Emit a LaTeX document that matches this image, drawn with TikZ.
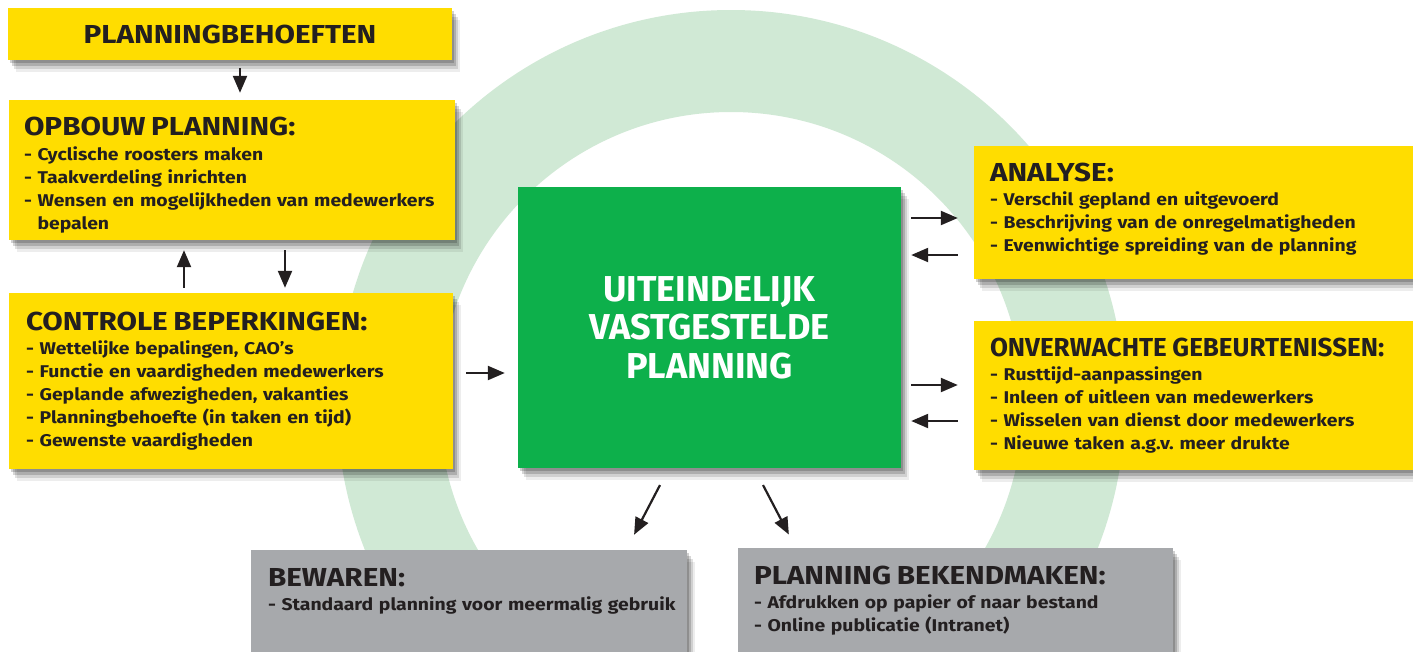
\documentclass[tikz,border=0pt]{standalone}
\usepackage{fontspec}
\setmainfont{Fira Sans}[FakeStretch=1.14]
\newfontfamily\smal{Fira Sans}
\frenchspacing
\usepackage{tikz}
\usetikzlibrary{arrows.meta,calc,positioning,shadows}
\definecolor{geel}{HTML}{FFDD00}
\definecolor{groen}{HTML}{0DB04B}
\definecolor{grijs}{HTML}{A7A9AC}
\definecolor{inkt}{HTML}{231F20}
\definecolor{watermerk}{HTML}{D0E9D5}
\newcommand{\kop}{\fontsize{26}{23}\selectfont}
\tikzset{
  kader/.style={rectangle,inner sep=0pt,text=inkt,
    drop shadow={shadow xshift=2pt,shadow yshift=-3pt,opacity=0.18,fill=black},
    drop shadow={shadow xshift=4pt,shadow yshift=-6pt,opacity=0.16,fill=black},
    drop shadow={shadow xshift=6pt,shadow yshift=-9pt,opacity=0.12,fill=black},
    drop shadow={shadow xshift=8pt,shadow yshift=-12pt,opacity=0.07,fill=black}},
  tekst/.style={anchor=north west,inner sep=0pt,text width=430pt,align=left,text=inkt,
    font=\bfseries\fontsize{17}{23}\selectfont},
  pijl/.style={-{Triangle[length=17pt,width=14pt]},line width=2.2pt,inkt}
}

\begin{document}
\begin{tikzpicture}[x=1pt,y=-1pt]
\useasboundingbox (0,0) rectangle (1413,651);
\fill[white] (0,0) rectangle (1413,651);
\fill[watermerk,even odd rule] (731,404) circle[radius=394] (731,404) circle[radius=292];
% linkerkolom
\node[kader,fill=geel,minimum width=444pt,minimum height=52pt,font=\bfseries\kop] (behoefte) at (230,34) {PLANNINGBEHOEFTEN};
\node[kader,fill=geel,minimum width=446pt,minimum height=140pt] (opbouw) at (232,170) {};
\node[kader,fill=geel,minimum width=444pt,minimum height=176pt] (controle) at (231,381) {};
\node[tekst] (opbouwtekst) at ($(opbouw.north west)+(15,17)$) {{\kop OPBOUW PLANNING:}\\[2pt]
  - Cyclische roosters maken\\ - Taakverdeling inrichten\\ - Wensen en mogelijkheden van medewerkers\\ \phantom{- }bepalen};
\node[tekst] (controletekst) at ($(controle.north west)+(17,19)$) {{\kop CONTROLE BEPERKINGEN:}\\[1pt]
  - Wettelijke bepalingen, CAO's\\ - Functie en vaardigheden medewerkers\\ - Geplande afwezigheden, vakanties\\
  - Planningbehoefte (in taken en tijd)\\ - Gewenste vaardigheden};
% midden
\node[kader,fill=groen,minimum width=383pt,minimum height=281pt,text=white,align=center,
  font=\smal\bfseries\fontsize{36}{38.5}\selectfont] (eind) at (709.5,327.5) {UITEINDELIJK\\VASTGESTELDE\\PLANNING};
% rechterkolom
\node[kader,fill=geel,minimum width=446pt,minimum height=133pt] (analyse) at (1197,212.5) {};
\node[kader,fill=geel,minimum width=446pt,minimum height=149pt] (onverwacht) at (1197,395.5) {};
\node[tekst] (analysetekst) at ($(analyse.north west)+(16,17)$) {{\kop ANALYSE:}\\[1pt]
  - Verschil gepland en uitgevoerd\\ - Beschrijving van de onregelmatigheden\\ - Evenwichtige spreiding van de planning};
\node[tekst] (onverwachttekst) at ($(onverwacht.north west)+(16,17)$) {{\smal\kop ONVERWACHTE GEBEURTENISSEN:}\\[1pt]
  - Rusttijd-aanpassingen\\ - Inleen of uitleen van medewerkers\\ - Wisselen van dienst door medewerkers\\ - Nieuwe taken a.g.v. meer drukte};
% onderaan
\node[kader,fill=grijs,minimum width=436pt,minimum height=120pt] (bewaren) at (469,610) {};
\node[kader,fill=grijs,minimum width=435pt,minimum height=120pt] (bekend) at (955.5,608) {};
\node[tekst] (bewarentekst) at ($(bewaren.north west)+(17,18)$) {{\kop BEWAREN:}\\[1pt]
  - Standaard planning voor meermalig gebruik};
\node[tekst] (bekendtekst) at ($(bekend.north west)+(16,18)$) {{\kop PLANNING BEKENDMAKEN:}\\[1pt]
  - Afdrukken op papier of naar bestand\\ - Online publicatie (Intranet)};
% pijlen
\draw[pijl,shorten <=8pt,shorten >=7pt] ($(behoefte.south)+(10,0)$) -- ($(opbouw.north)+(8,0)$);
\draw[pijl,shorten <=5pt,shorten >=10pt] ($(controle.north)+(-47,0)$) -- ($(opbouw.south)+(-48,0)$);
\draw[pijl,shorten <=10pt,shorten >=5pt] ($(opbouw.south)+(53,0)$) -- ($(controle.north)+(54,0)$);
\draw[pijl,shorten <=13pt,shorten >=13pt] ($(controle.east)+(0,-8)$) -- ($(controle.east -| eind.west)+(0,-8)$);
\draw[pijl,shorten <=10pt,shorten >=16pt] ($(eind.east |- analyse.west)+(0,5.5)$) -- ($(analyse.west)+(0,5.5)$);
\draw[pijl,shorten <=16pt,shorten >=10pt] ($(analyse.west)+(0,42.5)$) -- ($(eind.east |- analyse.west)+(0,42.5)$);
\draw[pijl,shorten <=10pt,shorten >=16pt] ($(eind.east |- onverwacht.west)+(0,-10.5)$) -- ($(onverwacht.west)+(0,-10.5)$);
\draw[pijl,shorten <=16pt,shorten >=10pt] ($(onverwacht.west)+(0,25.5)$) -- ($(eind.east |- onverwacht.west)+(0,25.5)$);
\draw[pijl,shorten <=19pt,shorten >=17pt] ($(eind.south)+(-40.7,0)$) -- ($(bewaren.north)+(157.2,0)$);
\draw[pijl,shorten <=19pt,shorten >=15pt] ($(eind.south)+(44.7,0)$) -- ($(bekend.north)+(-159.7,0)$);
\end{tikzpicture}
\end{document}
